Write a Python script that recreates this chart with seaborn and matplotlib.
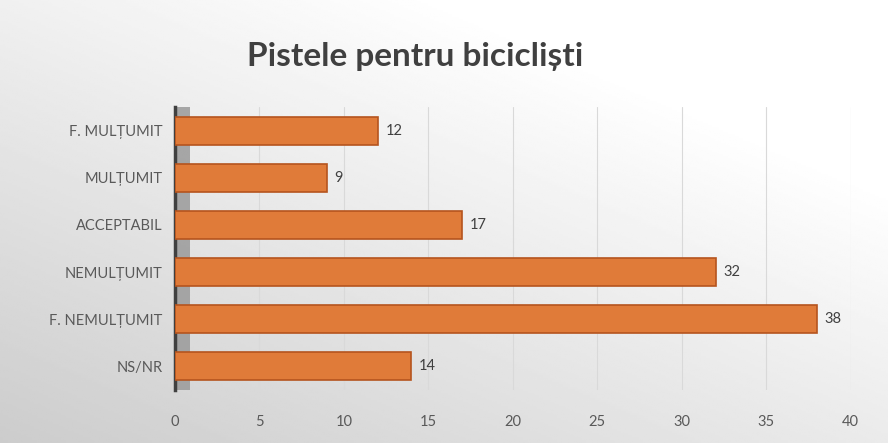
import numpy as np
import pandas as pd
import matplotlib
matplotlib.use("Agg")
import matplotlib.pyplot as plt
import seaborn as sns

categories = ["F. MULȚUMIT", "MULȚUMIT", "ACCEPTABIL", "NEMULȚUMIT", "F. NEMULȚUMIT", "NS/NR"]
values = [12, 9, 17, 32, 38, 14]
x_ticks = [0, 5, 10, 15, 20, 25, 30, 35, 40]
title = "Pistele pentru bicicliști"

sns.set_theme(style="white")
plt.rcParams["font.family"] = ["Lato", "DejaVu Sans"]

df = pd.DataFrame({"cat": categories, "val": values})

fig = plt.figure(figsize=(8.88, 4.43), dpi=100)

# background gradient
bg = fig.add_axes([0, 0, 1, 1], zorder=-10)
yy, xx = np.mgrid[0:1:200j, 0:1:400j]
grad = 0.80 + 0.20 * np.clip(0.6 * xx + 0.7 * yy, 0, 1)
bg.imshow(grad, cmap="gray", vmin=0, vmax=1, aspect="auto", extent=[0, 1, 0, 1], origin="lower")
bg.axis("off")

ax = fig.add_axes([0.197, 0.12, 0.761, 0.638])
ax.patch.set_alpha(0)

# side wall
ax.axvspan(0, 0.9, color="#9a9a9a", alpha=0.85, zorder=0, lw=0)

sns.barplot(data=df, y="cat", x="val", orient="h", color="#E07B39", width=0.6,
            edgecolor="#B5541E", linewidth=1.2, saturation=1, ax=ax, zorder=3)

ax.set_xlim(0, 40)
ax.set_ylim(5.5, -0.5)
ax.set_xticks(x_ticks)
ax.set_xticklabels([str(t) for t in x_ticks])
ax.xaxis.grid(True, color="#d9d9d9", lw=0.8)
ax.set_axisbelow(True)
for s in ["top", "right", "bottom"]:
    ax.spines[s].set_visible(False)
ax.spines["left"].set_color("#404040")
ax.spines["left"].set_linewidth(2.5)
ax.set_xlabel("")
ax.set_ylabel("")
ax.tick_params(axis="x", length=0, pad=18, labelsize=10.5, labelcolor="#595959")
ax.tick_params(axis="y", length=0, pad=9, labelsize=10.5, labelcolor="#595959")

for i, v in enumerate(values):
    ax.text(v + 0.45, i, str(v), va="center", ha="left", fontsize=10.5, color="#404040")

fig.text(0.468, 0.872, title, ha="center", va="center", fontsize=24, fontweight="bold", color="#404040")

fig.savefig("out.png", dpi=100)
